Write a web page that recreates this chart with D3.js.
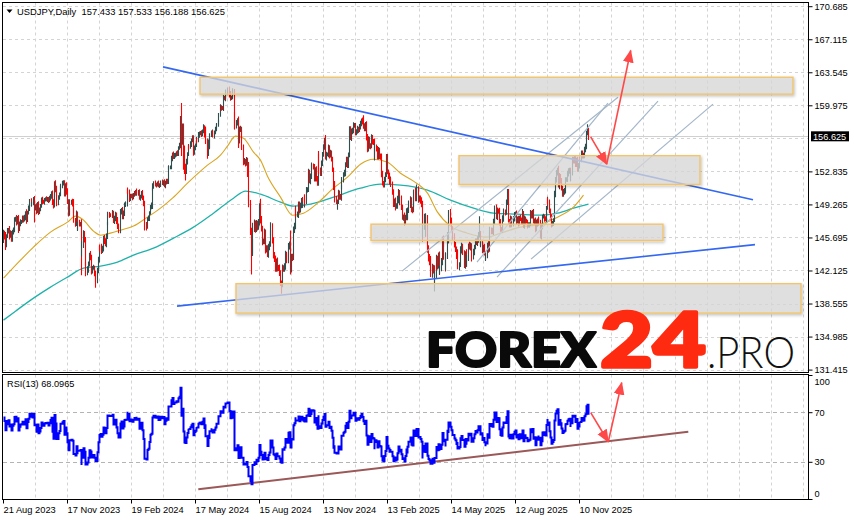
<!DOCTYPE html>
<html><head><meta charset="utf-8">
<script src="https://cdn.jsdelivr.net/npm/d3@7"></script>
<style>
body{margin:0;background:#fff;}
svg{display:block;}
</style></head><body>
<svg id="c" width="854" height="520"></svg>
<script>
// ---------------- DATA ----------------
const symbol = "USDJPY,Daily";
const headerOHLC = ["157.433","157.533","156.188","156.625"];
const rsiLabel = "RSI(13) 68.0965";
const lastPrice = 156.625;

// closes before the first visible bar (RSI warm-up only)
const preCloses = [141.3,140.3,138.5,138.0,138.8,138.7,139.0,139.7,140.0,141.8,141.5,140.9,140.3,139.4,141.2,142.3,143.3,143.3,142.6,141.8,142.5,143.4,143.7,144.7,144.9,145.6,145.6,146.4,145.8,145.4];

const closes2023 = [
146.22,145.88,144.84,145.83,146.41,146.53,145.87,146.18,145.54,146.22,
146.47,147.69,147.73,147.30,147.82,146.58,147.11,147.45,147.48,147.86,
147.62,147.86,148.33,147.57,148.37,148.86,149.06,149.64,149.33,149.37,
149.87,149.02,149.09,148.51,149.32,148.53,148.74,149.11,149.80,149.56,
149.53,149.77,149.84,149.82,149.87,149.71,149.90,150.19,150.38,149.61,
149.12,151.67,150.97,150.44,149.38,150.06,150.35,150.96,151.31,151.52,
151.69,150.41,151.35,150.72,
149.62,148.35,148.38,149.53,149.57,149.44,148.67,147.49,147.24,148.20,146.79,
147.20,147.17,147.26,144.11,144.95,146.18,145.45,142.91,141.91,142.17,
142.79,143.83,143.53,142.10,142.41,142.44,141.79,141.36,141.04];
const closes2024 = [
142.02,143.30,144.63,144.61,144.22,144.49,145.67,145.30,144.94,
145.73,147.19,148.16,148.15,148.12,148.11,148.37,147.46,147.65,148.18,
147.45,147.61,146.91,146.45,148.37,148.69,147.95,148.22,149.28,149.29,
149.35,150.78,150.58,149.93,150.21,
150.14,150.01,150.29,150.52,150.51,150.68,150.49,150.61,149.97,150.10,
150.52,150.04,149.37,148.05,147.06,146.94,147.68,147.77,148.34,149.04,
149.16,150.87,151.26,151.56,151.41,151.40,151.55,151.33,151.35,151.36,
151.65,151.57,151.69,151.32,151.62,151.85,151.78,153.16,153.26,153.26,
154.22,154.67,154.38,154.63,154.64,154.82,154.80,155.36,155.63,158.33,
156.31,157.80,155.02,153.06,152.96,153.89,154.69,155.50,155.47,155.78,
156.18,156.45,154.93,155.43,
155.66,156.24,156.18,156.78,156.95,156.99,156.84,157.16,157.62,156.80,157.29,
156.09,154.79,156.09,155.62,156.75,157.04,157.07,156.69,157.05,157.37,
157.74,157.86,158.11,158.94,159.78,159.70,159.67,160.78,160.72,160.87,
161.47,161.45,161.71,161.22,160.76,160.82,161.34,161.63,158.90,157.86,
158.08,158.37,156.25,157.38,157.47,157.02,155.55,153.89,153.97,153.75,
154.00,152.74,149.98,149.35,146.55,144.18,144.29,146.79,147.23,146.59,
147.19,146.84,147.30,
149.29,147.61,146.65,145.25,145.27,146.26,144.36,144.55,143.89,144.62,144.98,146.17,
146.94,145.43,143.71,143.44,142.30,143.12,142.41,142.38,141.84,140.85,
140.61,142.38,142.29,142.61,143.86,143.57,143.21,144.79,144.85,142.20,
143.64,143.55,146.48,146.99,148.71,148.19,148.19,149.28,148.58,149.14,
149.76,149.20,149.24,150.06,149.50,150.85,150.92,152.72,151.85,152.31,
153.31,153.40,153.33,152.03,152.99,152.14,151.59,154.64,152.95,152.64,
153.72,154.62,
155.46,156.27,154.31,154.66,154.67,155.45,154.53,154.78,
154.21,153.06,151.11,151.50,149.77,149.58,149.60,150.56,150.08,149.97,
151.21,151.94,152.45,152.60,153.62,154.11,153.50,154.67,157.41,156.42,
157.16,157.16,157.84,157.86,156.94,157.20];
const closes2025 = [
157.47,157.29,
157.65,158.01,158.35,158.10,157.73,157.48,157.96,156.48,155.29,156.34,
155.58,155.54,156.56,156.04,155.99,154.42,155.53,155.27,154.41,155.18,
154.46,154.38,152.60,151.60,151.40,151.96,152.53,154.40,
152.83,152.31,151.61,151.98,151.45,150.51,149.28,149.70,149.01,149.10,149.80,150.62,
149.47,149.82,148.96,147.91,147.98,147.27,147.85,148.56,147.85,148.63,
149.28,149.84,148.72,148.62,149.32,150.68,149.91,150.56,151.03,149.84,
149.94,149.63,149.25,146.05,146.93,147.75,146.25,147.72,144.55,143.51,
143.08,143.20,141.73,142.44,142.19,140.86,141.68,143.42,142.64,143.68,
142.03,142.35,143.08,145.40,144.96,143.68,142.41,143.78,145.88,145.37,
148.36,147.46,
146.70,145.70,145.65,144.90,144.53,143.66,144.02,142.56,
142.81,144.35,144.82,144.09,144.02,142.70,144.01,142.82,143.54,144.84,
144.58,144.86,144.63,143.51,144.07,144.72,145.28,145.07,145.42,146.09,
146.09,144.94,145.26,144.38,144.62,144.04,143.46,143.76,144.92,144.45,
146.05,146.56,146.34,146.25,147.42,147.73,148.86,147.87,148.62,148.60,
147.38,146.62,146.53,146.91,147.69,148.52,148.46,149.50,150.74,147.40,
147.08,147.68,147.36,147.09,147.72,148.14,
148.30,147.39,147.75,147.18,147.84,147.66,147.35,148.36,146.93,
147.77,147.42,147.40,146.97,147.05,147.13,148.37,148.05,148.47,147.40,
147.55,146.57,147.43,147.15,147.66,147.40,146.47,146.88,147.95,147.97,
147.69,147.64,148.89,149.80,149.49,148.62,147.90,147.07,147.27,147.47,
150.35,151.93,152.68,153.14,151.20,152.26,151.82,151.07,150.40,150.62,
150.75,151.91,151.99,152.59,152.87,152.94,152.08,152.69,154.11,154.00,
154.19,153.60,154.11,153.09,153.44,
154.14,154.13,154.78,154.53,154.56,155.20,155.52,157.13,157.43,156.625];

// wick beyond the body, in tenths of a yen (upper / lower)
const wickUp = [
3,2,4,2,3,2,4,3,2,3,3,2,2,4,2,3,3,2,1,2,2,3,2,4,2,3,2,2,3,2,2,3,2,3,2,3,2,2,2,3,2,2,2,3,2,2,3,2,3,4,2,1,2,3,2,2,2,3,2,3,2,2,2,3,
3,2,4,3,2,3,4,2,3,4,3,2,4,1,4,4,3,2,3,2,4,3,2,4,3,2,3,2,3,4,4,3,2,3,4,3,2,3,3,4,2,3,2,3,2,3,2,4,3,2,3,2,3,4,2,3,4,2,3,2,2,3,3,2,
2,3,2,2,3,2,3,2,3,2,2,3,2,3,3,3,2,3,2,2,3,2,3,2,3,2,2,3,2,2,2,3,2,3,2,2,2,3,2,2,3,2,3,2,2,2,3,2,3,5,19,2,2,6,6,3,2,3,2,3,2,3,3,2,
2,3,2,3,2,2,3,2,3,2,3,4,3,2,3,2,2,3,2,2,3,2,2,3,2,3,2,2,3,2,2,2,2,2,3,3,2,3,2,1,4,3,2,4,3,3,2,3,2,3,2,4,3,11,3,4,2,12,5,4,3,4,3,4,
1,6,4,3,3,4,3,3,3,4,3,3,4,3,3,4,3,3,4,3,4,3,2,4,3,3,4,3,3,3,4,16,3,3,4,3,4,3,3,3,3,3,2,3,3,2,3,3,2,4,3,3,3,4,3,3,3,4,2,1,4,3,3,3,
3,2,5,3,2,3,2,4,3,2,2,3,3,4,2,3,2,3,2,3,3,4,2,3,3,2,3,3,3,4,3,2,2,2,3,2,3,3,2,3,8,3,2,3,4,3,2,3,3,2,3,4,3,2,3,3,2,3,4,3,2,3,2,3,
3,2,4,3,2,3,4,2,3,3,4,3,2,3,4,3,2,4,3,3,2,3,4,3,2,3,3,2,4,3,4,2,3,3,4,4,3,5,4,6,4,3,4,3,5,4,3,5,4,4,3,4,5,3,4,4,5,3,4,3,4,3,3,4,
4,2,3,5,3,2,4,3,2,4,3,2,4,3,2,4,3,2,4,3,2,3,4,2,3,3,4,2,19,3,3,2,3,4,2,3,2,4,3,3,2,4,3,2,3,4,3,2,3,3,2,3,4,3,2,3,2,2,3,4,3,2,3,3,
2,3,2,3,2,3,2,4,2,3,2,3,2,3,2,3,2,2,3,2,3,2,3,2,3,2,3,2,3,2,3,2,3,2,3,2,3,2,3,4,3,3,1,3,4,3,3,2,3,3,3,2,3,3,3,3,2,3,3,3,3,2,3,3,
3,3,3,3,3,3,3,1,5,1];
const wickDn = [
3,4,5,2,2,3,4,2,3,3,2,2,3,3,2,4,2,2,3,2,3,2,3,4,2,2,3,2,3,3,2,17,4,3,2,4,3,2,2,3,2,3,2,2,3,3,2,2,3,4,3,2,4,3,3,2,3,2,2,3,2,3,3,4,
3,4,3,2,3,4,3,2,4,3,3,4,3,3,25,5,4,3,3,4,3,3,2,3,4,3,2,3,11,2,3,2,3,4,3,2,3,3,2,3,2,2,3,3,2,3,2,3,2,3,4,3,3,3,2,3,3,2,2,3,3,2,4,3,
2,3,2,2,3,3,2,3,2,3,2,3,3,3,6,5,3,2,3,2,3,4,2,3,2,3,2,2,3,2,2,2,3,2,3,2,3,3,2,2,2,3,2,2,3,2,3,3,2,3,18,6,20,5,11,4,3,2,3,2,3,2,4,3,
3,2,3,2,3,2,3,2,2,3,2,3,6,3,4,3,2,3,2,3,2,2,3,2,3,2,3,2,3,2,3,2,3,3,4,3,2,2,2,15,5,4,3,9,4,3,5,4,4,3,4,3,5,4,4,6,25,5,4,5,4,3,4,3,
3,4,3,4,3,3,4,3,3,4,3,3,3,4,3,4,3,3,4,3,3,4,10,3,3,3,4,3,3,3,4,5,3,4,3,3,4,3,3,4,3,2,3,3,3,3,3,2,3,3,3,4,3,3,3,3,3,4,3,3,4,3,3,3,
2,3,2,3,2,3,3,2,3,3,3,4,3,3,9,3,3,2,3,3,3,2,3,3,3,3,3,2,3,3,2,3,2,2,3,3,2,3,3,2,3,3,3,3,4,3,3,3,2,3,3,3,4,3,3,3,3,3,4,3,3,3,3,3,
3,3,2,4,3,2,3,3,4,2,3,4,3,2,3,3,4,3,2,3,3,2,3,4,3,3,2,4,3,3,3,4,3,3,3,8,4,4,5,4,5,4,4,4,3,4,4,3,10,4,4,3,4,3,3,4,3,4,4,3,4,3,3,4,
3,4,3,3,4,3,2,3,4,3,4,3,2,3,4,3,3,4,2,3,3,4,2,3,3,2,3,3,4,2,3,4,3,3,2,3,3,4,3,3,3,2,3,3,4,2,3,3,4,3,3,3,2,3,4,3,3,1,3,3,3,3,2,3,
3,3,2,3,2,2,3,3,2,3,3,2,3,2,3,2,3,3,2,3,3,2,3,2,3,9,10,3,2,3,2,3,2,3,3,3,3,2,3,1,3,3,3,1,3,3,3,3,3,3,3,2,3,3,3,3,3,3,3,3,3,3,3,3,
3,3,3,3,3,3,3,3,4,4];

// moving averages: [bar index, price]
const maYellow = [[0,141.30],[17,143.24],[30,144.65],[47,146.27],[64,147.35],[72,148.00],[79,147.67],[90,146.38],[97,145.94],[107,146.16],[117,146.48],[130,146.92],[144,147.89],[157,148.86],[169,149.94],[184,151.56],[204,153.51],[217,154.59],[224,155.56],[232,156.64],[240,156.42],[250,154.91],[257,154.05],[264,152.32],[277,150.05],[289,148.10],[300,148.32],[314,149.40],[330,151.02],[344,152.21],[357,153.61],[370,154.15],[384,153.83],[397,152.64],[410,151.78],[424,150.48],[434,148.43],[447,146.92],[464,146.16],[484,145.73],[497,146.16],[517,146.81],[537,147.13],[554,147.89],[570,148.97],[580,150.27]];
const maTeal = [[0,136.76],[12,137.73],[30,139.14],[47,140.33],[64,141.41],[80,142.38],[97,142.60],[114,143.03],[130,143.78],[150,144.54],[170,145.62],[190,146.81],[210,148.32],[230,149.94],[242,150.70],[257,150.37],[277,149.51],[290,149.08],[307,149.29],[330,150.05],[357,151.02],[377,151.45],[397,151.35],[424,150.81],[447,149.73],[470,148.86],[490,148.32],[514,148.21],[537,148.10],[554,148.32],[570,148.86],[585,149.29]];

// axes
const priceTicks = [170.685,167.115,163.545,159.975,156.405,152.835,149.265,145.695,142.125,138.555,134.985,131.415];
const rsiTicks = [100,70,30,0];
const rsiLevels = [70,30];
const dateTickIdx = [0,64,128,192,256,320,384,448,512,576];
const dateLabels = ["21 Aug 2023","17 Nov 2023","19 Feb 2024","17 May 2024","15 Aug 2024","13 Nov 2024","13 Feb 2025","14 May 2025","12 Aug 2025","10 Nov 2025"];

// drawn objects: zones [fromBar, toBar, top, bottom]
const zones = [[197,790,163.01,161.18],[456,697,154.53,151.42],[368,660,147.13,145.37],[233,798,140.70,137.52]];
const blueLines = [[[160,164.13],[750,149.76]],[[174,138.27],[752,144.92]]];
const channelLines = [[[399,142.06],[615,160.85]],[[474,143.03],[605,160.21]],[[494,141.41],[655,160.42]],[[528,143.35],[710,160.10]]];
const priceArrows = [[[587.7,156.56],[603.7,153.62]],[[603.7,153.62],[627.7,165.9]]];
const rsiArrows = [[[587.7,69.6],[605.3,46.2]],[[605.3,46.2],[618.7,93.8]]];
const rsiTrend = [[195.3,7.8],[685.3,54.3]];
const logo = ["FOREX","24",".PRO"];

// ---------------- BUILD ----------------
const closes = closes2023.concat(closes2024, closes2025);
const bars = closes.map((c,i)=>{
  const o = i===0 ? preCloses[preCloses.length-1] : closes[i-1];
  return {i,o,c,h:Math.max(o,c)+wickUp[i]/10,l:Math.min(o,c)-wickDn[i]/10};
});
// RSI(13), Wilder
const all = preCloses.concat(closes), P = 13;
const rsiAll = new Array(all.length).fill(null);
let ag=0, al=0;
for (let k=1;k<=P;k++){const d=all[k]-all[k-1]; ag+=Math.max(d,0); al+=Math.max(-d,0);}
ag/=P; al/=P; rsiAll[P]=100-100/(1+ag/al);
for (let k=P+1;k<all.length;k++){const d=all[k]-all[k-1]; ag=(ag*(P-1)+Math.max(d,0))/P; al=(al*(P-1)+Math.max(-d,0))/P; rsiAll[k]= al===0?100:100-100/(1+ag/al);}
const rsi = closes.map((c,i)=>rsiAll[i+preCloses.length]);

const L=3, R=808, MT=2.5, MB=372.5, RT=374.5, RB=499.5;
const xs = d3.scaleLinear().domain([0,805]).range([L,R]);
const yP = d3.scaleLinear().domain([131.415,170.685]).range([369.6,6.2]);
const yR = d3.scaleLinear().domain([0,100]).range([499,375]);

const svg = d3.select('#c');
const defs = svg.append('defs');
defs.append('clipPath').attr('id','cm').append('rect').attr('x',L).attr('y',MT).attr('width',R-L).attr('height',MB-MT);
defs.append('clipPath').attr('id','cr').append('rect').attr('x',L).attr('y',RT).attr('width',R-L).attr('height',RB-RT);
const f = defs.append('filter').attr('id','sh').attr('x','-5%').attr('y','-30%').attr('width','110%').attr('height','160%');
f.append('feDropShadow').attr('dx',1).attr('dy',1.5).attr('stdDeviation',1.6).attr('flood-color','#000').attr('flood-opacity',0.28);
defs.append('marker').attr('id','ah').attr('viewBox','0 0 12 10').attr('refX',11).attr('refY',5)
  .attr('markerWidth',13).attr('markerHeight',11).attr('markerUnits','userSpaceOnUse').attr('orient','auto')
  .append('path').attr('d','M0,0L12,5L0,10z').attr('fill','#ff4848');

svg.append('rect').attr('width',854).attr('height',520).attr('fill','#fff');

const gridIdx = d3.range(32,806,32);
const gm = svg.append('g').attr('clip-path','url(#cm)');
const gr = svg.append('g').attr('clip-path','url(#cr)');
[gm,gr].forEach((g,k)=>{
  g.selectAll('line.v').data(gridIdx).join('line').attr('class','v')
   .attr('x1',d=>Math.round(xs(d))+0.5).attr('x2',d=>Math.round(xs(d))+0.5)
   .attr('y1',k?RT:MT).attr('y2',k?RB:MB)
   .attr('stroke','#d4d4d4').attr('stroke-dasharray','3,3');
});
gm.selectAll('line.h').data(priceTicks).join('line').attr('class','h')
  .attr('x1',L).attr('x2',R).attr('y1',d=>Math.round(yP(d))+0.5).attr('y2',d=>Math.round(yP(d))+0.5)
  .attr('stroke','#d4d4d4').attr('stroke-dasharray','3,3');
gr.selectAll('line.h').data(rsiLevels).join('line').attr('class','h')
  .attr('x1',L).attr('x2',R).attr('y1',d=>Math.round(yR(d))+0.5).attr('y2',d=>Math.round(yR(d))+0.5)
  .attr('stroke','#b4b4b4').attr('stroke-dasharray','4,3');

// bid line
gm.append('line').attr('x1',L).attr('x2',R).attr('y1',Math.round(yP(lastPrice))+0.5).attr('y2',Math.round(yP(lastPrice))+0.5)
  .attr('stroke','#d0d0d0').attr('stroke-width',1);

// logo
const lg = svg.append('g').style('font-family','Lato, "Open Sans", sans-serif').attr('stroke-linejoin','round');
lg.append('text').text(logo[0]).attr('x',426).attr('y',367).attr('font-size',47).attr('font-weight',900)
  .attr('fill','#0a0a0a').attr('stroke','#0a0a0a').attr('stroke-width',2.2)
  .attr('textLength',170).attr('lengthAdjust','spacingAndGlyphs');
lg.append('text').text(logo[1]).attr('x',600).attr('y',367).attr('font-size',77).attr('font-weight',900)
  .attr('fill','#ff2b10').attr('stroke','#ff2b10').attr('stroke-width',3.4)
  .attr('textLength',106).attr('lengthAdjust','spacingAndGlyphs');
lg.append('text').text(logo[2]).attr('x',707).attr('y',368).attr('font-size',43).attr('font-weight',300)
  .attr('fill','#111').attr('textLength',88).attr('lengthAdjust','spacingAndGlyphs');

// MAs
const lineGen = d3.line().x(d=>xs(d[0])+0.5).y(d=>yP(d[1])).curve(d3.curveMonotoneX);
gm.append('path').attr('d',lineGen(maTeal)).attr('fill','none').attr('stroke','#20b2aa').attr('stroke-width',1.3);
gm.append('path').attr('d',lineGen(maYellow)).attr('fill','none').attr('stroke','#daa520').attr('stroke-width',1.1);

// candles
gm.selectAll('line.bar').data(bars).join('line').attr('class','bar')
  .attr('x1',d=>Math.floor(xs(d.i))+0.5).attr('x2',d=>Math.floor(xs(d.i))+0.5)
  .attr('y1',d=>yP(d.h)).attr('y2',d=>yP(d.l))
  .attr('stroke',d=>d.c>=d.o?'#2f4f4f':'#ff0000').attr('stroke-width',1.1);

// channel lines
const seg = (g,s,col,w)=>g.append('line').attr('x1',xs(s[0][0])).attr('y1',yP(s[0][1])).attr('x2',xs(s[1][0])).attr('y2',yP(s[1][1])).attr('stroke',col).attr('stroke-width',w);
channelLines.forEach(s=>seg(gm,s,'#a3b6c8',1.2));
blueLines.forEach(s=>seg(gm,s,'#3468f2',1.6));

// zones
gm.selectAll('rect.zone').data(zones).join('rect').attr('class','zone')
  .attr('x',d=>xs(d[0])).attr('width',d=>xs(d[1])-xs(d[0]))
  .attr('y',d=>yP(d[2])).attr('height',d=>yP(d[3])-yP(d[2]))
  .attr('fill','#dcdcdc').attr('fill-opacity',0.72)
  .attr('stroke','#f3c46e').attr('stroke-width',1.4).attr('filter','url(#sh)');

// price arrows
priceArrows.forEach(s=>{
  gm.append('line').attr('x1',xs(s[0][0])).attr('y1',yP(s[0][1])).attr('x2',xs(s[1][0])).attr('y2',yP(s[1][1]))
    .attr('stroke','#ff4848').attr('stroke-width',1.6).attr('marker-end','url(#ah)');
});

// RSI
gr.append('line').attr('x1',xs(rsiTrend[0][0])).attr('y1',yR(rsiTrend[0][1])).attr('x2',xs(rsiTrend[1][0])).attr('y2',yR(rsiTrend[1][1]))
  .attr('stroke','#9b5858').attr('stroke-width',2);
const rsiLine = d3.line().x((d,i)=>Math.floor(xs(i))+0.5).y(d=>yR(d)).curve(d3.curveStepAfter);
gr.append('path').attr('d',rsiLine(rsi)).attr('fill','none').attr('stroke','#0000ff').attr('stroke-width',2);
rsiArrows.forEach(s=>{
  gr.append('line').attr('x1',xs(s[0][0])).attr('y1',yR(s[0][1])).attr('x2',xs(s[1][0])).attr('y2',yR(s[1][1]))
    .attr('stroke','#ff4848').attr('stroke-width',1.6).attr('marker-end','url(#ah)');
});

// frames
svg.append('rect').attr('x',2.5).attr('y',MT).attr('width',R+0.5-2.5).attr('height',MB-MT).attr('fill','none').attr('stroke','#000');
svg.append('rect').attr('x',2.5).attr('y',RT).attr('width',R+0.5-2.5).attr('height',RB-RT).attr('fill','none').attr('stroke','#000');

const FONT = '"Liberation Sans", Arial, sans-serif';
// price axis
const pAxis = d3.axisRight(yP).tickValues(priceTicks.filter(v=>v!==156.405)).tickSize(4).tickPadding(2).tickFormat(d3.format('.3f'));
const gP = svg.append('g').attr('transform',`translate(${R+0.5},0)`).call(pAxis);
gP.select('.domain').remove();
gP.selectAll('text').attr('font-family',FONT).attr('font-size',9.2).attr('fill','#000');
gP.selectAll('line').attr('stroke','#000');
// bid label
const by = yP(lastPrice);
svg.append('rect').attr('x',811).attr('y',by-5).attr('width',38).attr('height',10).attr('fill','#000');
svg.append('text').attr('x',813).attr('y',by+3.4).text(d3.format('.3f')(lastPrice))
  .attr('font-family',FONT).attr('font-size',9.2).attr('fill','#fff');

// rsi axis
const rAxis = d3.axisRight(yR).tickValues(rsiTicks).tickSize(4).tickPadding(2);
const gRa = svg.append('g').attr('transform',`translate(${R+0.5},0)`).call(rAxis);
gRa.select('.domain').remove();
gRa.selectAll('text').attr('font-family',FONT).attr('font-size',9.2).attr('fill','#000')
  .attr('dy',d=>d===100?'1.0em':(d===0?'-0.3em':'0.32em'));
gRa.selectAll('line').attr('stroke','#000');

// date axis
const dAxis = d3.axisBottom(xs).tickValues(dateTickIdx).tickSize(4).tickPadding(3).tickFormat((d,i)=>dateLabels[i]);
const gD = svg.append('g').attr('transform',`translate(0,${RB})`).call(dAxis);
gD.select('.domain').remove();
gD.selectAll('text').attr('font-family',FONT).attr('font-size',9.3).attr('fill','#000').attr('text-anchor','start').attr('dx',0);
gD.selectAll('line').attr('stroke','#000');

// header
svg.append('path').attr('d','M6.5,9.5L12.5,9.5L9.5,13z').attr('fill','#000');
svg.append('text').attr('x',17).attr('y',14.5).attr('xml:space','preserve')
  .text(symbol+'  '+headerOHLC.join(' '))
  .attr('font-family',FONT).attr('font-size',9.8).attr('fill','#000').attr('textLength',208).attr('lengthAdjust','spacingAndGlyphs');
svg.append('text').attr('x',7).attr('y',387).text(rsiLabel)
  .attr('font-family',FONT).attr('font-size',9.2).attr('fill','#000');
</script>
</body></html>
